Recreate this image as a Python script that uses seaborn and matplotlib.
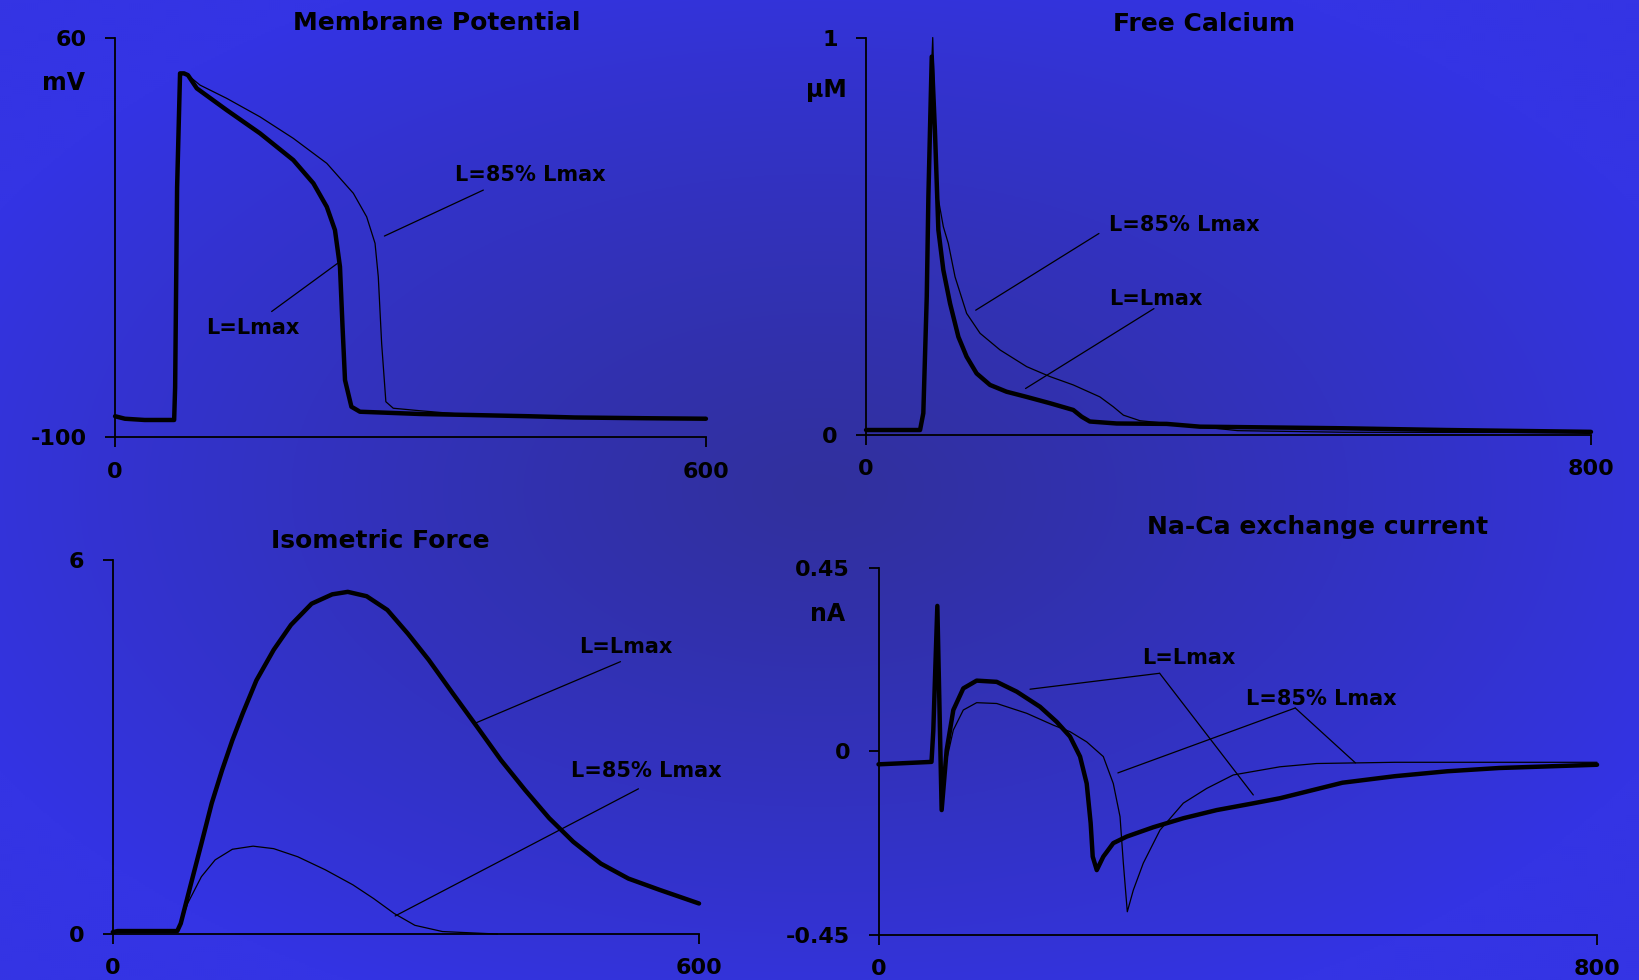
import numpy as np
import pandas as pd
import matplotlib
matplotlib.use('Agg')
import matplotlib.pyplot as plt
import seaborn as sns

# membrane potential (mV), 0-600 ms
mp_t_lmax = [0, 10, 30, 46, 60, 61, 63, 66, 70, 74, 83, 113.4, 147.2, 181, 201.4, 215, 223.3, 228.4,
             231, 233.5, 240, 248.7, 309.6, 361, 420, 467, 540, 600]
mp_v_lmax = [-91.5, -92.5, -93, -93, -93, -80, 0, 45.7, 45.7, 45, 39.7, 31, 21.7, 11, 1.7, -7.7, -17,
             -31.7, -55.7, -77, -87.7, -89.7, -90.6, -91, -91.5, -92, -92.3, -92.5]
mp_t_85 = [0, 10, 30, 46, 60, 61, 63, 66, 70, 74, 86.3, 113.4, 147.2, 181, 215, 242, 255.5, 264,
           267.3, 270.7, 275, 282.5, 309.6, 361, 420, 467, 540, 600]
mp_v_85 = [-91.5, -92.5, -93, -93, -93, -80, 0, 45.7, 45.7, 45, 41, 35.7, 28.3, 19.7, 9.7, -2.3,
           -11.7, -22.3, -35.7, -62.3, -85.7, -88.3, -89.3, -91, -91.5, -92, -92.3, -92.5]

# free calcium (uM), 0-800 ms
ca_t_lmax = [0, 37.5, 59.6, 63.2, 67, 68.8, 72.5, 76, 79.8, 85.3, 92.7, 101.9, 111, 122, 136.8, 155,
             177, 203, 228.7, 238, 247, 276.6, 331.8, 368.5, 410, 526, 641, 800]
ca_c_lmax = [0.0126, 0.0126, 0.0126, 0.055, 0.348, 0.60, 0.952, 0.767, 0.516, 0.415, 0.331, 0.247,
             0.197, 0.155, 0.126, 0.109, 0.096, 0.080, 0.063, 0.046, 0.034, 0.029, 0.028, 0.021,
             0.020, 0.017, 0.0126, 0.008]
ca_t_85 = [0, 37.5, 59.6, 63.2, 67, 70, 73.6, 78, 85.3, 90.8, 98.2, 111, 125.8, 147.9, 177.3, 203,
           228.7, 258, 272.9, 284, 302.3, 368.5, 410, 526, 800]
ca_c_85 = [0.0126, 0.0126, 0.0126, 0.055, 0.40, 0.80, 1.0, 0.616, 0.524, 0.482, 0.398, 0.306, 0.256,
           0.214, 0.172, 0.147, 0.126, 0.096, 0.071, 0.050, 0.036, 0.021, 0.011, 0.007, 0.006]

# isometric force, 0-600 ms
f_t_lmax = [0, 5, 48.4, 66, 69.6, 80.1, 90.7, 101.3, 111.9, 122.4, 133, 147, 164.7, 182.4, 203.5,
            224.6, 240.5, 259.8, 281, 302, 323.3, 348, 372.6, 397.3, 422, 446.6, 471.3, 499.5, 527.7,
            559.4, 600]
f_f_lmax = [0.03, 0.048, 0.048, 0.048, 0.17, 0.81, 1.45, 2.10, 2.63, 3.11, 3.54, 4.07, 4.56, 4.96,
            5.30, 5.45, 5.49, 5.42, 5.20, 4.82, 4.40, 3.86, 3.33, 2.79, 2.31, 1.86, 1.48, 1.13, 0.89,
            0.71, 0.49]
f_t_85 = [0, 5, 48.4, 66, 69.6, 76.6, 90.7, 104.8, 122.4, 143.6, 164.7, 189.3, 217.6, 245.7, 266.9,
          288, 309.2, 337.4, 393.8]
f_f_85 = [0.03, 0.048, 0.048, 0.048, 0.17, 0.49, 0.92, 1.19, 1.36, 1.41, 1.37, 1.24, 1.03, 0.79,
          0.57, 0.33, 0.14, 0.04, 0.0]

# Na-Ca exchange current (nA), 0-800 ms
nc_t_lmax = [0, 24, 59, 61, 65.5, 70.3, 75.9, 83.3, 94.4, 109.3, 131.6, 153.9, 179.8, 198.4,
             213.2, 224.4, 231.8, 236.2, 238.5, 243, 250.3, 261.4, 276.3, 306, 339.4, 376.6, 413.6,
             447, 516.6, 575, 633, 691, 800]
nc_i_lmax = [-0.032, -0.0296, -0.026, 0.05, 0.356, -0.144, 0.003, 0.101, 0.154, 0.173, 0.170,
             0.146, 0.109, 0.072, 0.036, -0.013, -0.079, -0.176, -0.258, -0.291, -0.258, -0.225,
             -0.209, -0.186, -0.164, -0.144, -0.129, -0.115, -0.077, -0.061, -0.049, -0.041, -0.033]
nc_t_85 = [0, 24, 59, 61, 65.5, 70.3, 75.9, 83.3, 94.4, 109.3, 131.6, 165, 194.6, 213.2, 231.8,
           250.3, 261.4, 268.9, 272.6, 277, 283.7, 294.8, 313.4, 339.4, 365.4, 395, 447, 487.5, 575,
           800]
nc_i_85 = [-0.032, -0.0296, -0.026, 0.05, 0.356, -0.144, -0.021, 0.052, 0.101, 0.119, 0.117,
           0.093, 0.064, 0.048, 0.023, -0.013, -0.079, -0.160, -0.274, -0.393, -0.340, -0.274,
           -0.193, -0.127, -0.091, -0.058, -0.038, -0.030, -0.027, -0.027]

titles = ['Membrane Potential', 'Free Calcium', 'Isometric Force', 'Na-Ca exchange current']
units = ['mV', 'μM', '', 'nA']
yticks = [[-100, 60], [0, 1], [0, 6], [-0.45, 0, 0.45]]
ytick_labels = [['-100', '60'], ['0', '1'], ['0', '6'], ['-0.45', '0', '0.45']]
xticks = [[0, 600], [0, 800], [0, 600], [0, 800]]
xtick_labels = [['0', '600'], ['0', '800'], ['0', '600'], ['0', '800']]

sns.set_style('ticks')
plt.rcParams['font.family'] = ['DejaVu Sans']
plt.rcParams['axes.unicode_minus'] = False

W, H = 1639, 980
fig = plt.figure(figsize=(W / 100, H / 100), dpi=100)

# blue radial background
bg = fig.add_axes([0, 0, 1, 1], zorder=-5)
yy, xx = np.mgrid[0:H:2, 0:W:2]
r = np.sqrt(((xx - W / 2) / (W / 2)) ** 2 + ((yy - H / 2) / (H / 2)) ** 2) / 1.15
r = np.clip(r, 0, 1) ** 1.2
c_mid = np.array([49, 48, 158]) / 255
c_edge = np.array([52, 52, 228]) / 255
img = c_mid[None, None, :] * (1 - r[..., None]) + c_edge[None, None, :] * r[..., None]
bg.imshow(img, aspect='auto', extent=[0, 1, 0, 1], origin='upper')
bg.axis('off')

rects = [[0.0702, 0.5536, 0.3605, 0.408],
         [0.5284, 0.5561, 0.4423, 0.4056],
         [0.0688, 0.0469, 0.3577, 0.3816],
         [0.5360, 0.0459, 0.4384, 0.375]]
series = [(mp_t_lmax, mp_v_lmax, mp_t_85, mp_v_85),
          (ca_t_lmax, ca_c_lmax, ca_t_85, ca_c_85),
          (f_t_lmax, f_f_lmax, f_t_85, f_f_85),
          (nc_t_lmax, nc_i_lmax, nc_t_85, nc_i_85)]

axes = []
for i in range(4):
    ax = fig.add_axes(rects[i])
    ax.set_facecolor('none')
    t1, y1, t2, y2 = series[i]
    sns.lineplot(x=t2, y=y2, ax=ax, color='black', linewidth=0.9, estimator=None, sort=False)
    sns.lineplot(x=t1, y=y1, ax=ax, color='black', linewidth=3.2, estimator=None, sort=False)
    for ln in ax.lines:
        ln.set_clip_on(False)
        ln.set_solid_joinstyle('round')
    ax.set_xlim(xticks[i][0], xticks[i][-1])
    ax.set_ylim(yticks[i][0], yticks[i][-1])
    ax.set_xticks(xticks[i])
    ax.set_xticklabels(xtick_labels[i])
    ax.set_yticks(yticks[i])
    ax.set_yticklabels(ytick_labels[i])
    sns.despine(ax=ax)
    for s in ['left', 'bottom']:
        ax.spines[s].set_color('black')
        ax.spines[s].set_linewidth(1.3)
    ax.tick_params(direction='out', length=7.5, width=1.3, colors='black', labelsize=16)
    ax.tick_params(axis='x', pad=10)
    ax.tick_params(axis='y', pad=13)
    for lbl in ax.get_xticklabels() + ax.get_yticklabels():
        lbl.set_fontweight('bold')
    ax.set_xlabel('')
    ax.set_ylabel('')
    axes.append(ax)

# titles and units (pixel positions)
title_pos = [(437, 23), (1204, 24), (380, 541), (1318, 527)]
unit_pos = [(63, 83), (826, 90), None, (828, 614)]
for i in range(4):
    fig.text(title_pos[i][0] / W, 1 - title_pos[i][1] / H, titles[i], ha='center', va='center',
             fontsize=18, fontweight='bold', color='black')
    if unit_pos[i]:
        fig.text(unit_pos[i][0] / W, 1 - unit_pos[i][1] / H, units[i], ha='center', va='center',
                 fontsize=17, fontweight='bold', color='black')


def label(ax, txt, xy, lines, ha='center'):
    ax.text(xy[0], xy[1], txt, ha=ha, va='center', fontsize=15, fontweight='bold', color='black')
    for (a, b) in lines:
        ax.plot([a[0], b[0]], [a[1], b[1]], color='black', lw=0.9, clip_on=False)


label(axes[0], 'L=85% Lmax', (422, 5), [((374, -1), (273.5, -19.4))])
label(axes[0], 'L=Lmax', (140, -56.3), [((159, -49.6), (226, -30.3))])
label(axes[1], 'L=85% Lmax', (268.6, 0.528), [((257, 0.507), (121, 0.314))], ha='left')
label(axes[1], 'L=Lmax', (268.6, 0.342), [((317.7, 0.318), (176, 0.117))], ha='left')
label(axes[2], 'L=Lmax', (525, 4.60), [((519.6, 4.37), (372, 3.39))])
label(axes[2], 'L=85% Lmax', (546, 2.61), [((538, 2.33), (289, 0.29))])
label(axes[3], 'L=Lmax', (293, 0.228), [((313, 0.191), (168.7, 0.152)), ((313, 0.191), (417.3, -0.107))],
      ha='left')
label(axes[3], 'L=85% Lmax', (409, 0.129), [((464, 0.106), (266.5, -0.053)), ((464, 0.106), (531, -0.0285))],
      ha='left')

fig.savefig('out.png', dpi=100)
